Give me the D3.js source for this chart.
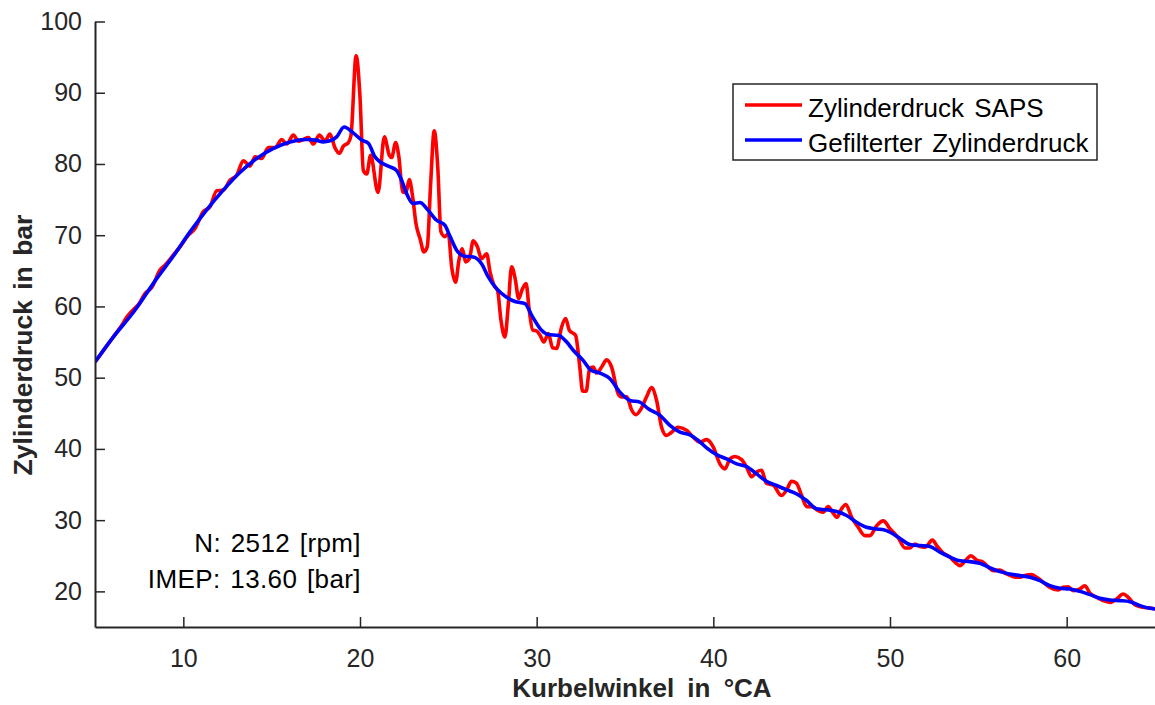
<!DOCTYPE html>
<html>
<head>
<meta charset="utf-8">
<script src="https://cdn.jsdelivr.net/npm/d3@7"></script>
<style>
  body { margin: 0; background: #fff; }
  text { font-family: "Liberation Sans", Arial, Helvetica, sans-serif; }
</style>
</head>
<body>
<div id="chart"></div>
<script>
// raw cylinder pressure (SAPS), crank angle in °CA / pressure in bar
var rawAngle = [5.0, 5.5, 6.0, 6.5, 6.8, 7.17, 7.5, 7.83, 8.21, 8.68, 8.96, 9.43, 9.81, 10.28, 10.66,
  11.13, 11.51, 11.89, 12.26, 12.64, 13.02, 13.4, 13.77, 14.06, 14.43, 14.81, 15.19, 15.57, 15.85,
  16.23, 16.51, 16.79, 17.08, 17.36, 17.7, 18.02, 18.3, 18.58, 18.83, 19.06, 19.34, 19.49, 19.78,
  20.0, 20.19, 20.38, 20.6, 21.02, 21.38, 21.66, 21.79, 22.02, 22.2, 22.41, 22.6, 22.79, 22.98,
  23.17, 23.4, 23.62, 23.81, 24.0, 24.2, 24.4, 24.58, 24.8, 25.0, 25.19, 25.41, 25.6, 25.79, 25.98,
  26.19, 26.41, 26.64, 26.88, 27.17, 27.36, 27.58, 27.79, 27.98, 28.2, 28.4, 28.58, 28.79, 28.98,
  29.17, 29.4, 29.58, 29.77, 30.0, 30.19, 30.41, 30.66, 30.9, 31.13, 31.41, 31.64, 31.85, 32.2,
  32.45, 32.6, 32.8, 33.0, 33.2, 33.4, 33.68, 33.96, 34.24, 34.62, 34.8, 35.1, 35.37, 35.62, 35.88,
  36.22, 36.5, 36.79, 37.07, 37.35, 37.64, 38.0, 38.5, 38.86, 39.24, 39.62, 40.0, 40.37, 40.66,
  40.94, 41.22, 41.6, 41.88, 42.17, 42.45, 42.73, 43.0, 43.4, 43.86, 44.15, 44.43, 44.7, 45.0,
  45.28, 45.56, 45.94, 46.22, 46.5, 46.75, 47.01, 47.26, 47.5, 47.83, 48.2, 48.58, 48.86, 49.24,
  49.62, 50.0, 50.47, 50.85, 51.13, 51.41, 51.7, 51.98, 52.4, 52.68, 53.0, 53.4, 53.68, 53.96,
  54.24, 54.58, 54.9, 55.28, 55.56, 55.85, 56.22, 56.6, 56.98, 57.35, 57.73, 58.0, 58.3, 58.68,
  59.05, 59.52, 59.8, 60.09, 60.37, 60.75, 61.03, 61.32, 61.7, 62.07, 62.45, 62.83, 63.2, 63.49,
  63.86, 64.33, 64.71, 65.0];
var rawPressure = [52.2, 53.9, 55.6, 57.3, 58.5, 59.55, 60.4, 61.8, 62.65, 65.1, 65.8, 67.2, 68.36, 70.0, 70.94,
  73.3, 74.0, 76.23, 76.33, 77.73, 78.43, 80.44, 79.7, 81.0, 80.77, 82.3, 82.3, 83.44, 82.8,
  84.05, 83.2, 83.44, 83.7, 82.8, 84.05, 83.25, 84.2, 82.3, 81.5, 82.5, 83.0, 84.0, 95.2,
  89.4, 79.1, 78.6, 81.2, 76.0, 83.8, 81.2, 80.9, 83.0, 81.0, 76.1, 76.0, 77.8, 75.4,
  71.6, 69.5, 67.66, 68.4, 77.3, 84.66, 79.6, 70.5, 69.8, 70.2, 65.55, 63.4, 66.5, 68.1, 66.25,
  66.7, 69.2, 68.4, 66.7, 67.4, 64.85, 63.0, 62.2, 58.05, 55.7, 60.4, 65.55, 63.8, 61.1,
  62.3, 63.2, 59.45, 56.7, 56.55, 55.95, 55.0, 56.2, 54.2, 54.1, 57.1, 58.3, 56.65, 55.95,
  51.3, 48.1, 48.1, 51.3, 51.5, 50.65, 51.5, 52.5, 51.5, 47.7, 47.3, 47.3, 45.5, 44.8, 45.5,
  47.3, 48.6, 46.8, 43.05, 41.9, 42.35, 43.05, 42.6, 41.65, 40.95, 41.3, 40.25, 37.9, 37.2,
  38.6, 38.93, 38.5, 37.45, 36.1, 36.75, 37.0, 35.2, 34.9, 33.45, 34.25, 35.47, 35.2, 33.45,
  31.9, 31.9, 31.35, 31.1, 31.9, 31.1, 30.4, 31.6, 32.2, 30.4, 29.0, 27.83, 27.83, 29.2,
  29.9, 28.8, 27.5, 26.1, 26.1, 26.66, 26.3, 26.2, 27.2, 26.3, 25.4, 24.8, 24.1, 23.62,
  24.23, 25.0, 24.4, 24.1, 23.4, 22.9, 23.0, 22.44, 22.07, 21.98, 22.3, 22.35, 21.98, 21.27,
  20.57, 20.2, 20.57, 20.66, 20.1, 20.34, 20.8, 19.73, 19.17, 18.7, 18.46, 18.93, 19.63, 19.17,
  18.14, 17.76, 17.67, 17.53];

// filtered cylinder pressure
var filtAngle = [5.0, 6.0, 7.26, 8.49, 9.5, 10.38, 11.3, 12.26, 13.2, 14.15, 15.1, 16.04, 16.98, 17.5,
  17.92, 18.3, 18.68, 19.1, 19.6, 20.1, 20.47, 20.85, 21.13, 21.6, 22.07, 22.36, 22.64, 23.0,
  23.4, 23.77, 24.34, 24.8, 25.1, 25.47, 25.94, 26.41, 26.88, 27.26, 27.73, 28.3, 28.77, 29.34,
  29.72, 30.28, 30.66, 31.22, 31.7, 32.07, 32.64, 33.1, 33.58, 34.15, 34.71, 35.28, 35.84, 36.32,
  36.98, 37.54, 38.11, 38.67, 39.15, 39.62, 40.18, 40.75, 41.32, 41.88, 42.45, 43.0, 43.58, 44.15,
  44.71, 45.28, 45.84, 46.41, 46.98, 47.54, 48.11, 48.67, 49.24, 49.8, 50.47, 51.13, 51.7, 52.26,
  52.83, 53.4, 53.96, 54.52, 55.09, 55.66, 56.22, 56.79, 57.35, 57.92, 58.49, 59.05, 59.62, 60.18,
  60.75, 61.32, 61.88, 62.45, 63.02, 63.58, 64.15, 64.71, 65.0];
var filtPressure = [52.2, 55.6, 59.46, 63.9, 67.3, 70.47, 73.5, 76.33, 78.8, 80.77, 82.2, 83.1, 83.44, 83.35,
  83.1, 83.25, 83.8, 85.2, 84.4, 83.35, 82.9, 81.0, 80.3, 79.7, 79.1, 77.7, 75.85, 74.45,
  74.6, 73.75, 72.1, 71.4, 69.8, 67.9, 67.05, 66.95, 66.0, 64.15, 62.5, 61.3, 60.7, 60.4,
  58.75, 56.65, 56.05, 55.95, 55.0, 53.85, 52.4, 51.0, 50.65, 49.85, 47.97, 46.8, 46.57, 45.63,
  44.7, 43.3, 42.35, 41.98, 41.18, 40.15, 39.2, 38.6, 37.9, 37.53, 36.5, 35.47, 34.86, 34.25,
  33.7, 32.75, 31.6, 31.45, 31.2, 30.65, 29.7, 29.0, 28.77, 28.53, 27.6, 26.57, 26.43, 26.3,
  25.5, 24.8, 24.3, 24.18, 23.94, 23.3, 22.77, 22.44, 22.21, 21.98, 21.5, 20.8, 20.43, 20.34,
  20.0, 19.54, 19.03, 18.79, 18.7, 18.56, 18.0, 17.62, 17.53];

var xTicks = [10, 20, 30, 40, 50, 60];
var yTicks = [20, 30, 40, 50, 60, 70, 80, 90, 100];
var seriesNames = ["Zylinderdruck SAPS", "Gefilterter Zylinderdruck"];
var seriesColors = ["#ff0000", "#0000ff"];
var notes = ["N: 2512 [rpm]", "IMEP: 13.60 [bar]"];

var W = 1155, H = 705;
var margin = {left: 95, right: 0, top: 21.5, bottom: 78};
var width = W - margin.left - margin.right;
var height = H - margin.top - margin.bottom;

var svg = d3.select("#chart").append("svg")
  .attr("width", W)
  .attr("height", H);

var g = svg.append("g")
  .attr("transform", "translate(" + margin.left + "," + margin.top + ")");

var x = d3.scaleLinear().domain([5, 65]).range([0, width]);
var y = d3.scaleLinear().domain([15, 100]).range([height, 0]);

// clip so lines stay inside the axes
svg.append("defs").append("clipPath").attr("id", "plotclip")
  .append("rect").attr("x", 0).attr("y", -2).attr("width", width).attr("height", height + 2);

var raw = rawAngle.map(function (a, i) { return [a, rawPressure[i]]; });
var filt = filtAngle.map(function (a, i) { return [a, filtPressure[i]]; });

var line = d3.line()
  .x(function (d) { return x(d[0]); })
  .y(function (d) { return y(d[1]); })
  .curve(d3.curveMonotoneX);

var lines = g.append("g").attr("clip-path", "url(#plotclip)");
lines.append("path").datum(raw)
  .attr("fill", "none")
  .attr("stroke", seriesColors[0])
  .attr("stroke-width", 3.6)
  .attr("stroke-linejoin", "round")
  .attr("d", line);
lines.append("path").datum(filt)
  .attr("fill", "none")
  .attr("stroke", seriesColors[1])
  .attr("stroke-width", 3.6)
  .attr("stroke-linejoin", "round")
  .attr("d", line);

// axes, ticks pointing inward like MATLAB
var xAxis = d3.axisBottom(x).tickValues(xTicks).tickSize(-10).tickPadding(22).tickSizeOuter(0);
var yAxis = d3.axisLeft(y).tickValues(yTicks).tickSize(-10).tickPadding(13).tickSizeOuter(0);

var gx = g.append("g").attr("transform", "translate(0," + height + ")").call(xAxis);
var gy = g.append("g").call(yAxis);

[gx, gy].forEach(function (ax) {
  ax.select(".domain").attr("stroke", "#262626").attr("stroke-width", 2);
  ax.selectAll(".tick line").attr("stroke", "#262626").attr("stroke-width", 1.5);
  ax.selectAll(".tick text")
    .attr("fill", "#262626")
    .style("font-size", "25px")
    .style("font-family", "'Liberation Sans', Arial, sans-serif");
});

// axis titles
svg.append("text")
  .attr("x", 642)
  .attr("y", 697)
  .attr("text-anchor", "middle")
  .style("font-size", "26px")
  .style("font-weight", "bold")
  .style("word-spacing", "6px")
  .attr("fill", "#262626")
  .text("Kurbelwinkel in °CA");

svg.append("text")
  .attr("transform", "translate(32,345) rotate(-90)")
  .attr("text-anchor", "middle")
  .style("font-size", "26.5px")
  .style("font-weight", "bold")
  .style("word-spacing", "3px")
  .attr("fill", "#262626")
  .text("Zylinderdruck in bar");

// annotations, right aligned
notes.forEach(function (t, i) {
  svg.append("text")
    .attr("x", 361)
    .attr("y", 551.5 + i * 36.5)
    .attr("text-anchor", "end")
    .style("font-size", "26px")
    .style("letter-spacing", "0.4px")
    .style("word-spacing", "2px")
    .attr("fill", "#000")
    .text(t);
});

// legend
var lg = svg.append("g").attr("transform", "translate(733,84)");
lg.append("rect")
  .attr("width", 364).attr("height", 76)
  .attr("fill", "#fff")
  .attr("stroke", "#262626")
  .attr("stroke-width", 1.5);

seriesNames.forEach(function (name, i) {
  var ly = 21 + i * 35;
  lg.append("line")
    .attr("x1", 12).attr("x2", 69)
    .attr("y1", ly).attr("y2", ly)
    .attr("stroke", seriesColors[i])
    .attr("stroke-width", 3.6);
  lg.append("text")
    .attr("x", 75)
    .attr("y", ly + 11.5)
    .style("font-size", "26px")
    .style("word-spacing", "3px")
    .attr("fill", "#000")
    .text(name);
});
</script>
</body>
</html>
